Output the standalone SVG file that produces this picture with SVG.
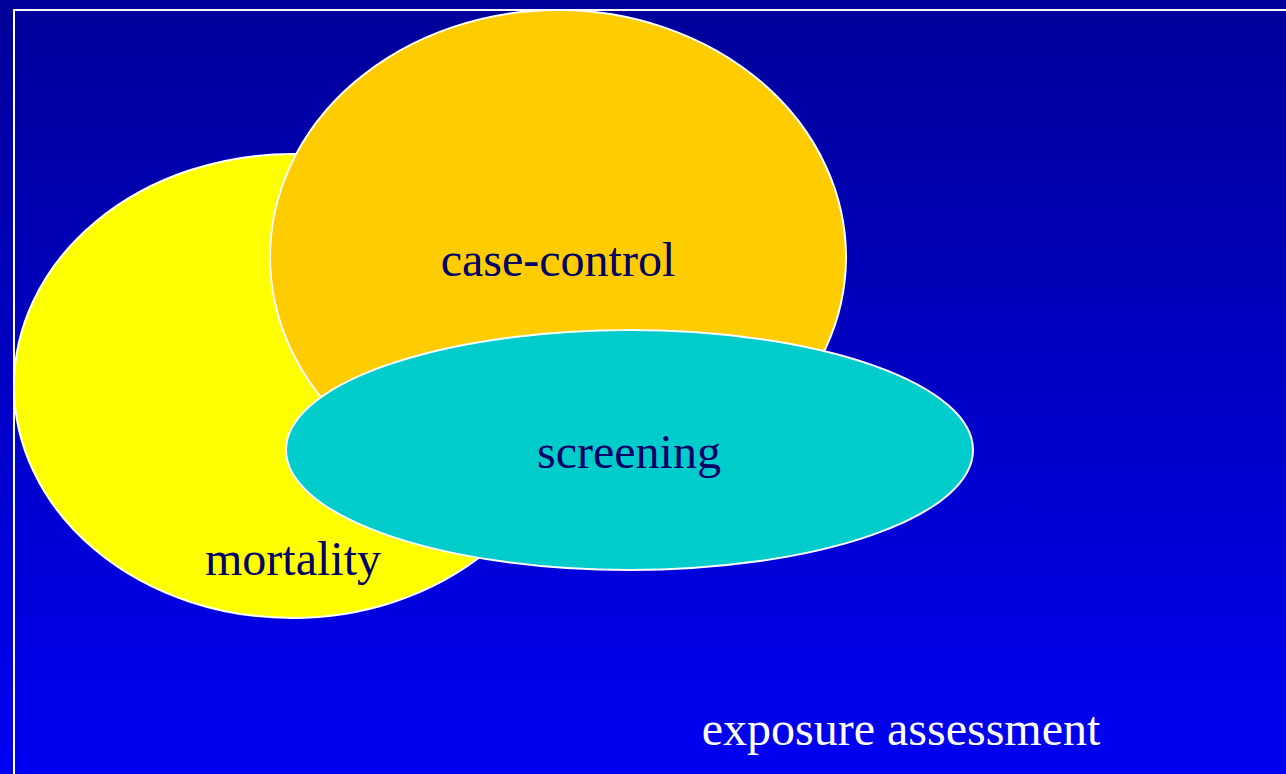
<svg xmlns="http://www.w3.org/2000/svg" width="1286" height="774" viewBox="0 0 1286 774">
<defs>
<linearGradient id="bg" x1="0" y1="0" x2="0" y2="1">
<stop offset="0" stop-color="#000099"/>
<stop offset="1" stop-color="#0000F2"/>
</linearGradient>
</defs>
<style>
.shape{stroke:#FFFFFF;stroke-width:2}
.lbl{font-family:"Liberation Serif","Times New Roman",serif;font-size:48px;fill:#000066;text-anchor:middle}
.note{font-family:"Liberation Serif","Times New Roman",serif;font-size:48px;fill:#FFFFFF;text-anchor:middle}
</style>
<rect x="0" y="0" width="1286" height="774" fill="url(#bg)"/>
<path d="M14 774 V10 H1286" fill="none" stroke="#FFFFFF" stroke-width="2"/>
<g id="mortality">
<ellipse class="shape" cx="292" cy="386" rx="278" ry="232" fill="#FFFF00"/>
<text class="lbl" x="293" y="575">mortality</text>
</g>
<g id="case-control">
<ellipse class="shape" cx="558" cy="257" rx="288" ry="247" fill="#FFCC00"/>
<text class="lbl" x="558" y="276">case-control</text>
</g>
<g id="screening">
<ellipse class="shape" cx="629.5" cy="450" rx="343.5" ry="120" fill="#00CCCC"/>
<text class="lbl" x="629" y="468">screening</text>
</g>
<g id="connectors"></g>
<text class="note" x="901" y="745">exposure assessment</text>
</svg>
